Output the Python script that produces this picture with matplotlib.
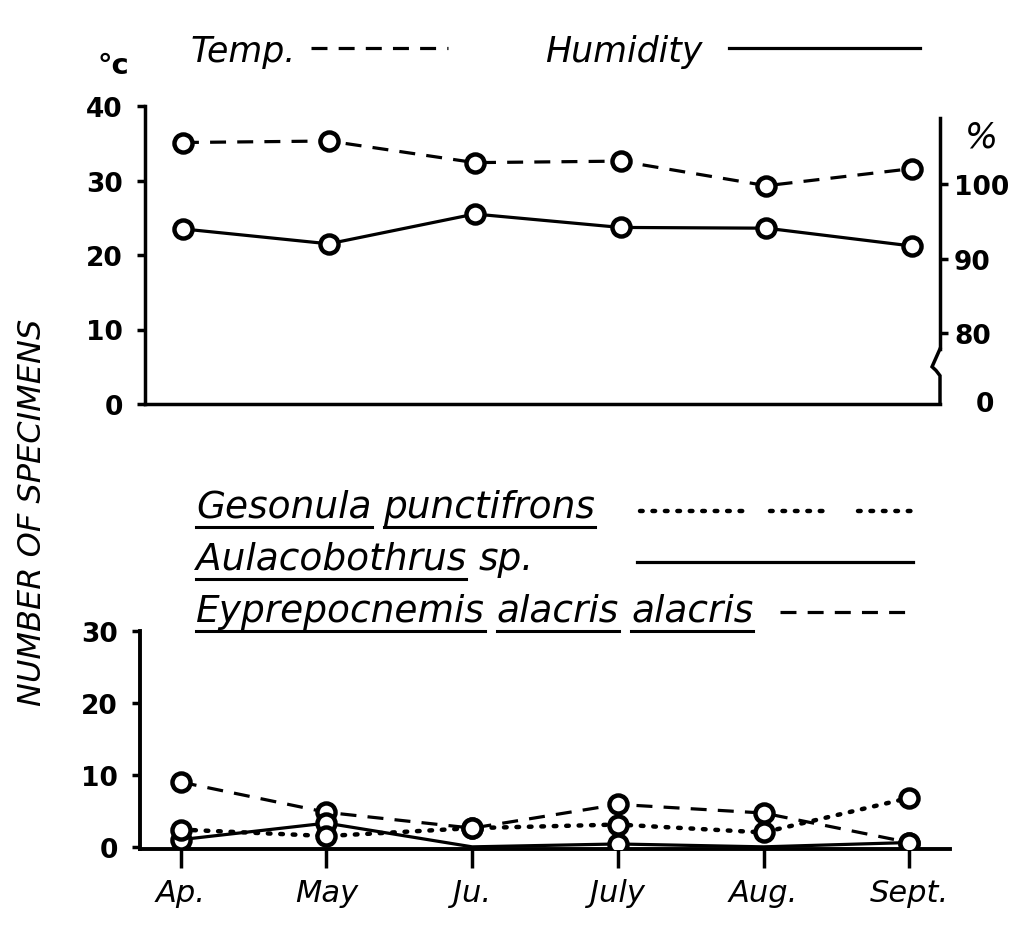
import numpy as np
import matplotlib.pyplot as plt
from matplotlib.lines import Line2D

# values
months = ["Ap.", "May", "Ju.", "July", "Aug.", "Sept."]
temp_c = [35.1, 35.3, 32.4, 32.6, 29.3, 31.6]
humidity_pct = [94.0, 92.0, 96.0, 94.2, 94.1, 91.7]

gesonula = [2.4, 1.5, 2.6, 3.1, 2.0, 6.8]
aulacobothrus = [1.0, 3.3, 0.0, 0.4, 0.0, 0.6]
eyprepocnemis = [9.0, 4.8, 2.6, 5.9, 4.7, 0.6]

x = np.arange(len(months))
W, H = 1010, 929

fig = plt.figure(figsize=(W / 100, H / 100), dpi=100)

circle = dict(marker="o", ms=13, mfc="white", mec="black", mew=3.2)
num_font = dict(fontsize=19, fontweight="bold")


def fig_xy(px, py):
    return px / W, 1 - py / H


# ---- top panel: temperature and humidity ----
ax1 = fig.add_axes([145 / W, 1 - 405 / H, 795 / W, 298 / H])
ax1.plot(x, temp_c, color="black", lw=2.3, ls=(0, (5, 3.5)), **circle, zorder=3)
ax1.set_xlim(-0.26, 5.19)
ax1.set_ylim(0, 40)
ax1.set_yticks([0, 10, 20, 30, 40])
ax1.set_yticklabels(["0", "10", "20", "30", "40"], **num_font)
ax1.set_xticks([])
for s in ["top", "right"]:
    ax1.spines[s].set_visible(False)
for s in ["left", "bottom"]:
    ax1.spines[s].set_linewidth(2.5)
ax1.tick_params(axis="y", direction="out", length=6, width=2.5, pad=10)

ax2 = ax1.twinx()
ax2.set_ylim(70.5, 110.5)
ax2.plot(x, humidity_pct, color="black", lw=2.3, ls="-", **circle, zorder=3)
ax2.set_yticks([80, 90, 100])
ax2.set_yticklabels(["80", "90", "100"], **num_font)
ax2.tick_params(axis="y", direction="out", length=6, width=2.5, pad=4)
for s in ["top", "left", "bottom"]:
    ax2.spines[s].set_visible(False)
ax2.spines["right"].set_linewidth(2.5)
ax2.spines["right"].set_bounds(77.9, 108.9)
# axis break on the humidity scale
ax2.plot([1.0, 0.99, 0.995, 1.0, 1.0], [77.9, 75.5, 75.0, 74.3, 70.5],
         transform=ax2.get_yaxis_transform(), color="black", lw=2.5,
         clip_on=False, solid_joinstyle="miter")
ax2.text(1.045, 70.5, "0", transform=ax2.get_yaxis_transform(),
         ha="left", va="center", **num_font)
fig.text(*fig_xy(981, 137), "%", fontsize=25, style="italic",
         ha="center", va="center")
fig.text(*fig_xy(113, 66), "°c", fontsize=21, fontweight="bold",
         ha="center", va="center")

# header key
fig.text(*fig_xy(191, 62), "Temp.", fontsize=25, style="italic",
         ha="left", va="baseline")
fig.text(*fig_xy(545, 62), "Humidity", fontsize=25, style="italic",
         ha="left", va="baseline")
fig.add_artist(Line2D([311 / W, 448 / W], [1 - 49 / H] * 2, color="black",
                      lw=2.3, ls=(0, (5, 3.5))))
fig.add_artist(Line2D([729 / W, 920 / W], [1 - 49 / H] * 2, color="black",
                      lw=2.3))

# ---- bottom panel: number of specimens ----
ax3 = fig.add_axes([140 / W, 1 - 850 / H, 810 / W, 218 / H])
ax3.plot(x, eyprepocnemis, color="black", lw=2.3, ls=(0, (5, 3.5)),
         **circle, zorder=3)
ax3.plot(x, aulacobothrus, color="black", lw=2.3, ls="-",
         markevery=[0, 1, 3, 5], **circle, zorder=4)
ax3.plot(x, gesonula, color="black", lw=3.2, ls=(0, (0.6, 2.2)),
         dash_capstyle="round", **circle, zorder=5)
ax3.set_xlim(-0.28, 5.28)
ax3.set_ylim(-0.3, 30)
ax3.set_yticks([0, 10, 20, 30])
ax3.set_yticklabels(["0", "10", "20", "30"], **num_font)
ax3.set_xticks(x)
ax3.set_xticklabels(months, fontsize=22, style="italic")
for s in ["top", "right"]:
    ax3.spines[s].set_visible(False)
for s in ["left", "bottom"]:
    ax3.spines[s].set_linewidth(2.8)
ax3.tick_params(axis="y", direction="out", length=6, width=2.5, pad=10)
ax3.tick_params(axis="x", direction="out", length=14, width=2.5, pad=7)

fig.text(*fig_xy(33, 512), "NUMBER OF SPECIMENS", rotation=90, fontsize=23,
         style="italic", ha="center", va="center")

# species key with underlined names
key_rows = [
    (518, [("Gesonula", True), ("punctifrons", True)]),
    (570, [("Aulacobothrus", True), ("sp.", False)]),
    (622, [("Eyprepocnemis", True), ("alacris", True), ("alacris", True)]),
]
key_font = dict(fontsize=27, style="italic", ha="left", va="baseline")
fig.canvas.draw()
renderer = fig.canvas.get_renderer()
for base_y, words in key_rows:
    px = 196
    for word, underline in words:
        t = fig.text(*fig_xy(px, base_y), word, **key_font)
        bb = t.get_window_extent(renderer)
        if underline:
            fig.add_artist(Line2D([bb.x0 / W, bb.x1 / W],
                                  [1 - (base_y + 10) / H] * 2,
                                  color="black", lw=2.2))
        px = bb.x1 + 12

fig.add_artist(Line2D([640 / W, 745 / W], [1 - 512 / H] * 2, color="black",
                      lw=3.2, ls=(0, (0.6, 2.2)), dash_capstyle="round"))
fig.add_artist(Line2D([770 / W, 832 / W], [1 - 512 / H] * 2, color="black",
                      lw=3.2, ls=(0, (0.6, 2.2)), dash_capstyle="round"))
fig.add_artist(Line2D([858 / W, 912 / W], [1 - 512 / H] * 2, color="black",
                      lw=3.2, ls=(0, (0.6, 2.2)), dash_capstyle="round"))
fig.add_artist(Line2D([637 / W, 913 / W], [1 - 563 / H] * 2, color="black",
                      lw=2.3))
fig.add_artist(Line2D([780 / W, 913 / W], [1 - 613 / H] * 2, color="black",
                      lw=2.3, ls=(0, (5, 3.5))))

plt.savefig("out.png", dpi=100, facecolor="white")
